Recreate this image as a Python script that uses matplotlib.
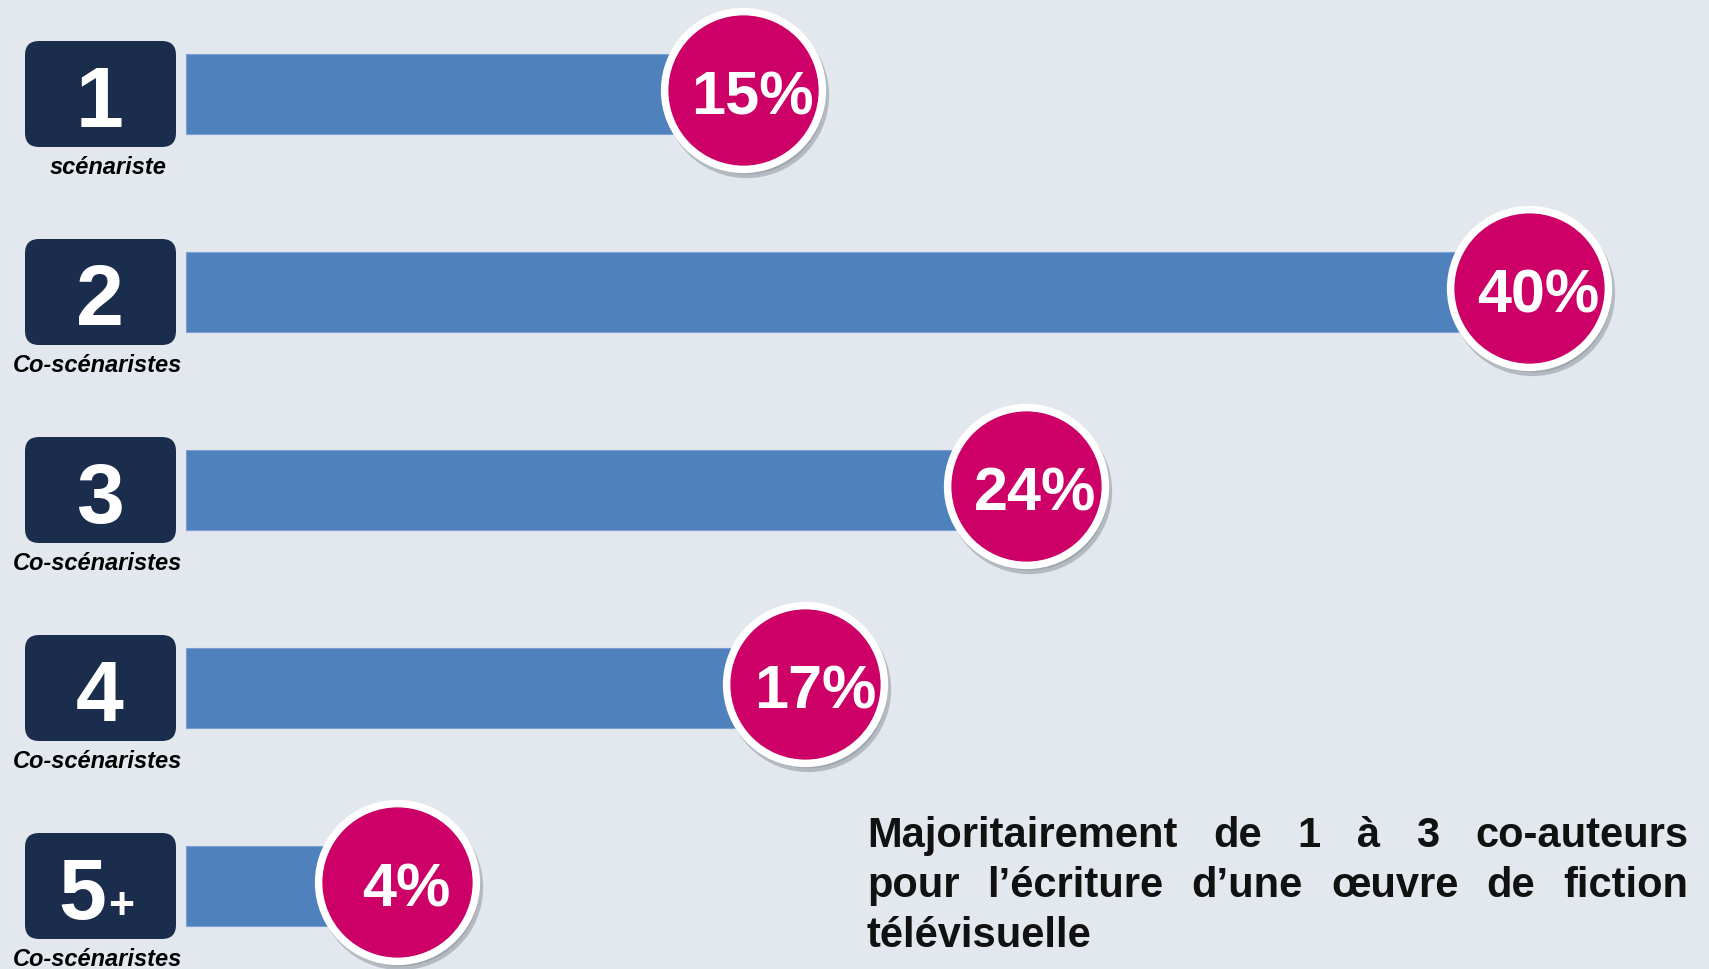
import matplotlib
matplotlib.use("Agg")
import matplotlib.pyplot as plt
import matplotlib.transforms as mtransforms
from matplotlib.patches import FancyBboxPatch

# data
counts = ["1", "2", "3", "4", "5"]
sublabels = ["scénariste", "Co-scénaristes", "Co-scénaristes", "Co-scénaristes", "Co-scénaristes"]
values = [15, 40, 24, 17, 4]
note_lines = [
    ["Majoritairement", "de", "1", "à", "3", "co-auteurs"],
    ["pour", "l’écriture", "d’une", "œuvre", "de", "fiction"],
    ["télévisuelle"],
]

BG = "#e3e8ef"
BAR = "#4f81bd"
NAVY = "#1b2d4d"
PINK = "#cc0066"
FONT = "Liberation Sans"

W, H = 1709, 970
fig = plt.figure(figsize=(W / 100, H / 100), dpi=100, facecolor=BG)
ax = fig.add_axes([0, 0, 1, 1])
ax.set_facecolor(BG)
ax.axis("off")

# pixel layout: 0% at x=271px, 31.44 px per %, rows every 198px from y=95
px0, ppu = 271, 31.44
row0, rowh = 95, 198
ax.set_xlim(-px0 / ppu, (W - px0) / ppu)
ax.set_ylim((H - row0) / rowh, -row0 / rowh)
aspect = ppu / rowh

rows = list(range(len(values)))
bar_left = (186 - px0) / ppu
ax.barh(rows, [v - bar_left for v in values], left=bar_left, height=0.40,
        color=BAR, edgecolor="#7b9fd0", linewidth=0.8, zorder=2)

# bubbles sit a touch above the bar centre, with a soft shadow
lift = 4 / rowh
brows = [r - lift for r in rows]
shadow_tr = mtransforms.offset_copy(ax.transData, fig=fig, x=3, y=-5, units="dots")
ax.scatter(values, brows, s=12900, color="#8f959e", alpha=0.55, linewidths=5.4,
           edgecolors="#8f959e", transform=shadow_tr, zorder=3)
ax.scatter(values, brows, s=12900, color=PINK, edgecolors="white", linewidths=5.4, zorder=4)
for v, r in zip(values, brows):
    ax.text(v + 0.3, r + 0.121, f"{v}%", color="white", fontsize=44, fontweight="bold",
            family=FONT, ha="center", va="baseline", zorder=5)

# numbered boxes
box_l = (25 - px0) / ppu
box_w = 151 / ppu
box_h = 106 / rowh
box_cx = (100 - px0) / ppu
for r, c, lab in zip(rows, counts, sublabels):
    ax.add_patch(FancyBboxPatch((box_l, r - box_h / 2), box_w, box_h,
                                boxstyle="round,pad=0,rounding_size=0.45",
                                mutation_aspect=aspect, facecolor=NAVY,
                                edgecolor="none", zorder=2))
    if c == "5":
        ax.text(box_cx + 6 / ppu, r + 0.16, "5", color="white", fontsize=62,
                fontweight="bold", family=FONT, ha="right", va="baseline", zorder=3)
        ax.text(box_cx + 8 / ppu, r + 0.16, "+", color="white", fontsize=32,
                fontweight="bold", family=FONT, ha="left", va="baseline", zorder=3)
    else:
        ax.text(box_cx, r + 0.16, c, color="white", fontsize=62, fontweight="bold",
                family=FONT, ha="center", va="baseline", zorder=3)
    lx = box_cx + (8 / ppu if lab == "scénariste" else -3 / ppu)
    ax.text(lx, r + 0.40, lab, color="black", fontsize=17, fontweight="bold",
            style="italic", family=FONT, ha="center", va="baseline", zorder=3)

# justified note at bottom right
renderer = fig.canvas.get_renderer()
left_px, right_px = 867, 1688
baselines = [847, 897, 947]
for words, base in zip(note_lines, baselines):
    texts = [fig.text(0, 1 - base / H, w, fontsize=30, fontweight="bold", family=FONT,
                      color="#111111", ha="left", va="baseline") for w in words]
    widths = [t.get_window_extent(renderer).width for t in texts]
    if len(words) > 1:
        gap = (right_px - left_px - sum(widths)) / (len(words) - 1)
    else:
        gap = 0
    x = left_px
    for t, w in zip(texts, widths):
        t.set_x(x / W)
        x += w + gap

fig.savefig("out.png", dpi=100, facecolor=BG)
